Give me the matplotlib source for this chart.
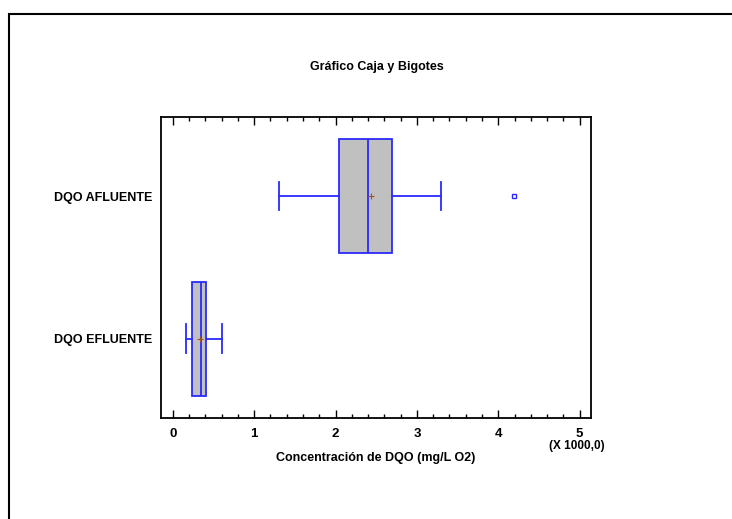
import matplotlib
matplotlib.use("Agg")
import matplotlib.pyplot as plt
from matplotlib.patches import Rectangle
from matplotlib.ticker import MultipleLocator
from matplotlib import font_manager

# datos (X 1000)
categorias = ["DQO EFLUENTE", "DQO AFLUENTE"]
bigote_inf = [0.164, 1.30]
q1 = [0.23, 2.043]
mediana = [0.34, 2.40]
q3 = [0.41, 2.694]
bigote_sup = [0.607, 3.29]
media = [0.33, 2.436]
atipicos = [[], [4.19]]

names = {f.name for f in font_manager.fontManager.ttflist}
fam = "Liberation Sans Narrow" if "Liberation Sans Narrow" in names else "Liberation Sans"
plt.rcParams['font.family'] = [fam, 'DejaVu Sans']
fs = 9

fig = plt.figure(figsize=(7.32, 5.19), dpi=100)
ax = fig.add_axes([160.5 / 732, 1 - 418 / 519, (591 - 160.5) / 732, (418 - 117) / 519])

stats = []
for i in range(len(categorias)):
    stats.append({"whislo": bigote_inf[i], "q1": q1[i], "med": mediana[i],
                  "q3": q3[i], "whishi": bigote_sup[i], "mean": media[i],
                  "fliers": atipicos[i], "label": categorias[i]})

azul = "#2a2aff"
ax.bxp(stats, positions=[1, 2], widths=0.8, vert=False, patch_artist=True,
       showmeans=True, capwidths=0.2,
       boxprops=dict(facecolor="#c0c0c0", edgecolor=azul, linewidth=1.3),
       medianprops=dict(color=azul, linewidth=1.3),
       whiskerprops=dict(color=azul, linewidth=1.3),
       capprops=dict(color=azul, linewidth=1.3),
       meanprops=dict(marker="+", markeredgecolor="#a0522d", markersize=4, markeredgewidth=0.8),
       flierprops=dict(marker="s", markerfacecolor="none", markeredgecolor=azul,
                       markersize=3, markeredgewidth=1))

ax.set_xlim(-0.152, 5.14)
ax.set_ylim(0.444, 2.554)
ax.xaxis.set_major_locator(MultipleLocator(1))
ax.xaxis.set_minor_locator(MultipleLocator(0.2))
ax.tick_params(axis="x", which="both", direction="in", top=True, bottom=True,
               labelsize=fs + 0.5, pad=7, color="black")
ax.tick_params(axis="x", which="major", length=6, width=1)
ax.tick_params(axis="x", which="minor", length=3, width=1)
ax.tick_params(axis="y", length=0, labelsize=fs, pad=6)
for lab in ax.get_xticklabels() + ax.get_yticklabels():
    lab.set_fontweight("bold")
for s in ax.spines.values():
    s.set_linewidth(1.3)

ax.set_xlabel("Concentración de DQO (mg/L O2)", fontsize=fs, fontweight="bold", labelpad=9)
fig.text(577 / 732, 1 - 446 / 519, "(X 1000,0)", ha="center", va="center",
         fontsize=fs - 0.5, fontweight="bold")
fig.text(377 / 732, 1 - 67 / 519, "Gráfico Caja y Bigotes", ha="center", va="center",
         fontsize=fs, fontweight="bold")

# marco exterior
fig.patches.append(Rectangle((9 / 732, -0.1), 1.2, 1 - 14 / 519 + 0.1,
                             transform=fig.transFigure, fill=False,
                             edgecolor="black", linewidth=1.5))

fig.savefig("out.png", dpi=100)
